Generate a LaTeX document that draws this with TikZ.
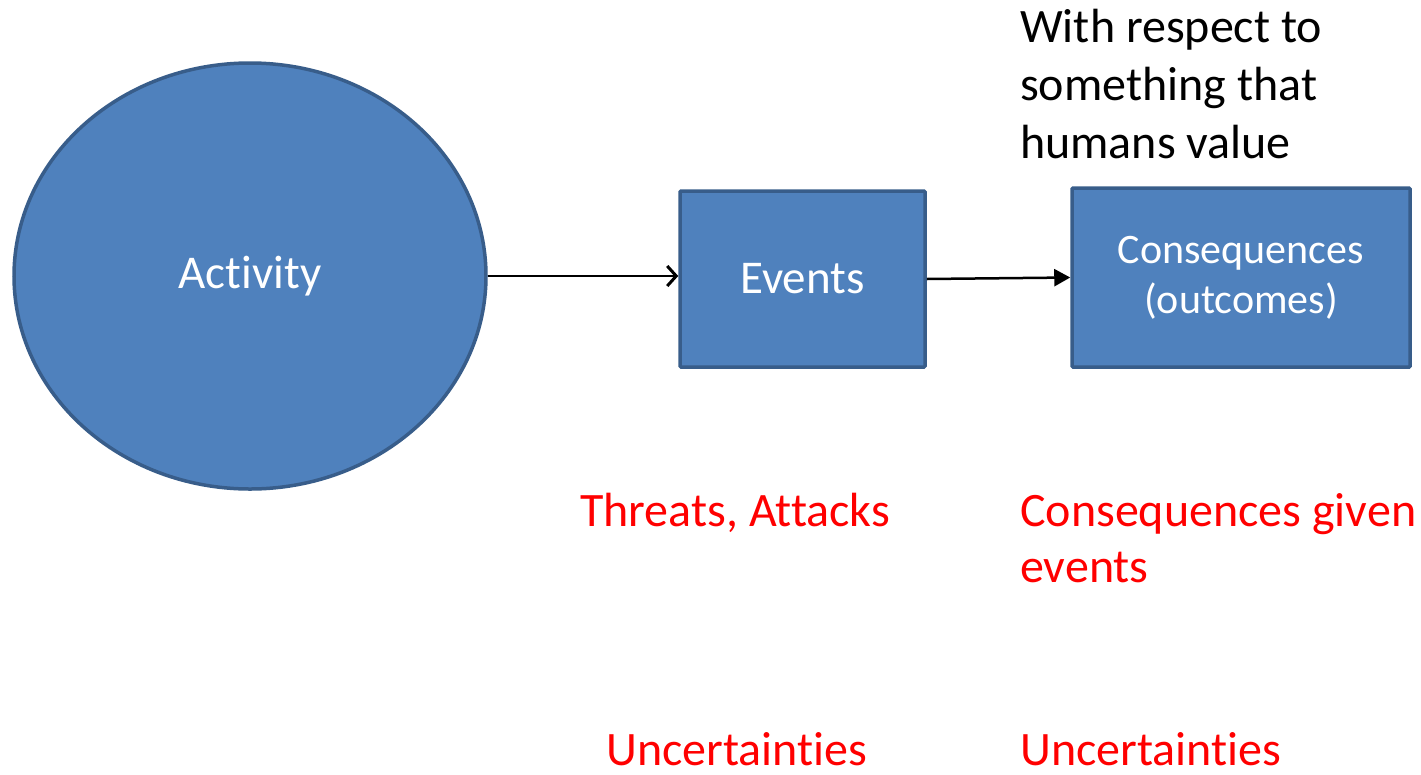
\documentclass[tikz,border=0pt]{standalone}
\usepackage{fontspec}
\setmainfont[Ligatures=NoCommon]{Carlito}
\usetikzlibrary{arrows.meta,shapes.geometric}
\definecolor{boxfill}{HTML}{4F81BD}
\definecolor{boxline}{HTML}{385D8A}
\begin{document}
\begin{tikzpicture}[x=1pt,y=-1pt,
  shapebox/.style={draw=boxline,line width=3.5pt,fill=boxfill,text=white,align=center,inner sep=0pt},
  redtext/.style={text=red,font=\fontsize{48}{56}\selectfont,align=left,inner sep=0pt,anchor=base west},
  blacktext/.style={text=black,font=\fontsize{48}{58}\selectfont,align=left,inner sep=0pt,anchor=base west},
  conn/.style={line width=2.5pt}]
\useasboundingbox (0,0) rectangle (1421,774);
\node[shapebox,ellipse,minimum width=472pt,minimum height=426pt,font=\fontsize{47}{56}\selectfont] (act) at (250,276) {Activity};
\node[shapebox,rectangle,rounded corners=1pt,minimum width=245pt,minimum height=176pt,font=\fontsize{47}{56}\selectfont] (ev) at (802.5,279) {Events};
\node[shapebox,rectangle,rounded corners=1pt,minimum width=338pt,minimum height=179pt,font=\fontsize{42}{50}\selectfont] (cons) at (1241,277.5) {Consequences\\(outcomes)};
\draw[conn,-{Straight Barb[length=9pt,width=20pt,line width=3pt]}] (act.east) -- (act.east -| ev.west);
\draw[conn,-{Triangle[length=16pt,width=17pt]}] (ev.east) -- (cons.west);
\node[blacktext] (resp) at (1020,158) {With respect to\\something that\\humans value};
\node[redtext] (threat) at (580,526) {Threats, Attacks};
\node[redtext] (consg) at (1020,582) {Consequences given\\events};
\node[redtext,text depth=0pt] (unc1) at (606,765) {Uncertainties};
\node[redtext,text depth=0pt] (unc2) at (1020,765) {Uncertainties};
\end{tikzpicture}
\end{document}
